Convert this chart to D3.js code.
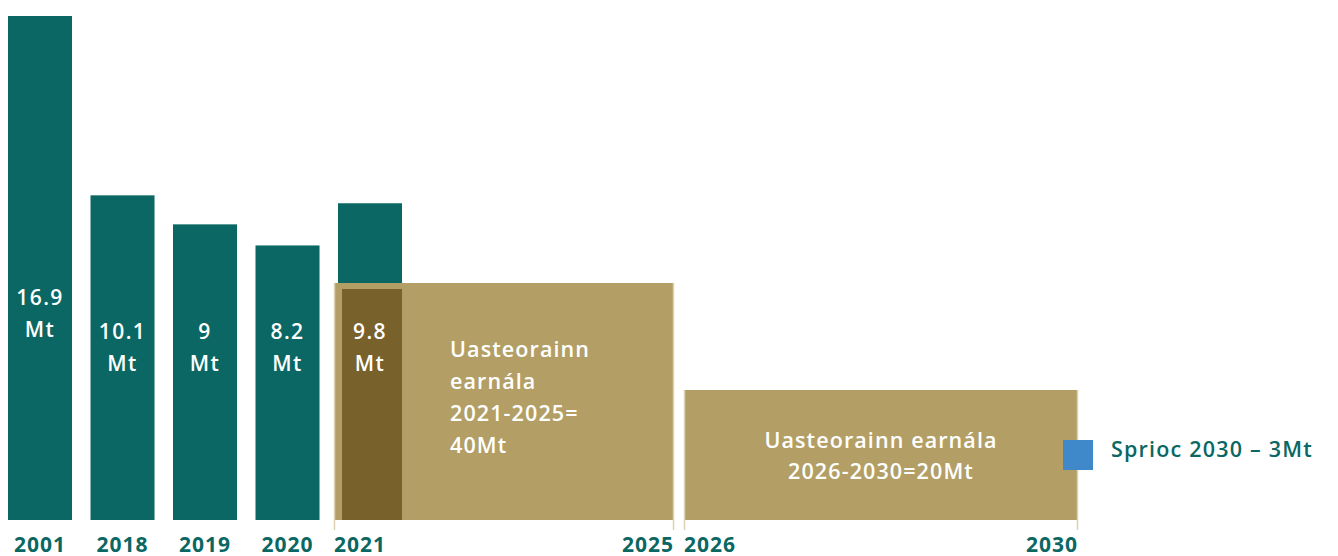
<!DOCTYPE html>
<html>
<head>
<meta charset="utf-8">
<script src="https://cdn.jsdelivr.net/npm/d3@7"></script>
<style>
  body { margin: 0; background: #fff; }
  svg { display: block; font-family: "Open Sans", sans-serif; }
</style>
</head>
<body>
<svg id="chart" width="1338" height="556"></svg>
<script>
// Emissions per year (Mt)
const years = ["2001", "2018", "2019", "2020", "2021"];
const emissions = [16.9, 10.1, 9, 8.2, 9.8];

// Sectoral ceilings
const periodStart = ["2021", "2026"];
const periodEnd = ["2025", "2030"];
const periodCap = [40, 20];
const periodText = [
    ["Uasteorainn", "earnála", "2021-2025=", "40Mt"],
    ["Uasteorainn earnála", "2026-2030=20Mt"],
];

const targetYear = "2030";
const targetValue = 3;
const targetLabel = "Sprioc 2030 – 3Mt";

const teal = "#0a6763";
const gold = "#b39f65";
const darkGold = "#79612b";
const edge = "#dcd1b0";
const blue = "#3f88c9";

const svg = d3.select("#chart");
const baseline = 520;

const x = d3.scaleBand()
    .domain(years)
    .range([-1.24, 411.26])
    .paddingInner(0.224)
    .paddingOuter(0.112);

// bar heights in the original are not proportional from zero
const y = d3.scaleLinear().domain([-2.21, 16.9]).range([baseline, 16]);
const yCap = d3.scaleLinear().domain([-4.3, 40]).range([baseline, 283]);

// pixel spans of the two ceiling periods
const periodSpans = [[334, 674], [684, 1078]];

const bars = years.map((yr, i) => ({ year: yr, value: emissions[i] }));

// Bars
svg.append("g")
    .selectAll("rect")
    .data(bars)
    .join("rect")
    .attr("x", (d) => x(d.year))
    .attr("y", (d) => y(d.value))
    .attr("width", x.bandwidth())
    .attr("height", (d) => baseline - y(d.value))
    .attr("fill", teal);

// Ceiling boxes
const periods = periodStart.map((s, i) => ({
    start: s,
    end: periodEnd[i],
    cap: periodCap[i],
    text: periodText[i],
    x0: periodSpans[i][0],
    x1: periodSpans[i][1],
}));

const pg = svg.append("g");
pg.selectAll("rect")
    .data(periods)
    .join("rect")
    .attr("x", (d) => d.x0)
    .attr("y", (d) => yCap(d.cap))
    .attr("width", (d) => d.x1 - d.x0)
    .attr("height", (d) => baseline - yCap(d.cap))
    .attr("fill", gold);

// light edge lines extending below the boxes
periods.forEach((p) => {
    [p.x0 + 0.5, p.x1 - 0.5].forEach((ex) => {
        pg.append("line")
            .attr("x1", ex)
            .attr("x2", ex)
            .attr("y1", yCap(p.cap))
            .attr("y2", baseline + 10)
            .attr("stroke", edge)
            .attr("stroke-width", 1.5);
    });
});

// 2021 emissions inside the first ceiling
const overlap = bars.find((d) => d.year === periods[0].start);
svg.append("rect")
    .attr("x", x(overlap.year) + 4)
    .attr("y", yCap(periods[0].cap) + 6)
    .attr("width", x.bandwidth() - 4)
    .attr("height", baseline - yCap(periods[0].cap) - 6)
    .attr("fill", darkGold);

// Bar value labels
const lbl = svg.append("g")
    .attr("fill", "#fff")
    .attr("font-size", 21)
    .attr("font-weight", 600)
    .attr("letter-spacing", 1.4)
    .attr("text-anchor", "middle");

bars.forEach((d, i) => {
    const top = i === 0 ? 305 : 339;
    const cx = x(d.year) + x.bandwidth() / 2;
    lbl.append("text").attr("x", cx).attr("y", top).text(d.value);
    lbl.append("text").attr("x", cx).attr("y", top + 32).text("Mt");
});

// Text in ceiling boxes
const t1 = svg.append("text")
    .attr("fill", "#fff")
    .attr("font-size", 21.5)
    .attr("font-weight", 600)
    .attr("letter-spacing", 1.1);
periods[0].text.forEach((line, i) => {
    t1.append("tspan").attr("x", 450).attr("y", 357 + i * 32).text(line);
});

const t2 = svg.append("text")
    .attr("fill", "#fff")
    .attr("font-size", 21.5)
    .attr("font-weight", 600)
    .attr("letter-spacing", 1.1)
    .attr("text-anchor", "middle");
periods[1].text.forEach((line, i) => {
    t2.append("tspan")
        .attr("x", (periods[1].x0 + periods[1].x1) / 2)
        .attr("y", 448 + i * 31)
        .text(line);
});

// Year axis under the bars
const axis = svg.append("g")
    .attr("transform", `translate(0,${baseline})`)
    .call(
        d3.axisBottom(x)
            .tickValues(years.filter((yr) => yr !== periods[0].start))
            .tickSize(0)
            .tickPadding(17),
    );
axis.select(".domain").remove();
axis.selectAll("text")
    .attr("fill", teal)
    .attr("font-size", 21)
    .attr("font-weight", 700)
    .attr("letter-spacing", 1)
    .attr("font-family", "'Open Sans', sans-serif");

// Period edge labels
const el = svg.append("g")
    .attr("fill", teal)
    .attr("font-size", 21)
    .attr("font-weight", 700)
    .attr("letter-spacing", 1);
periods.forEach((p) => {
    el.append("text").attr("x", p.x0).attr("y", 552).text(p.start);
    el.append("text").attr("x", p.x1).attr("y", 552).attr("text-anchor", "end").text(p.end);
});

// 2030 target marker
const target = periods.find((p) => p.end === targetYear);
svg.append("rect")
    .attr("x", target.x1 - 15)
    .attr("y", 440)
    .attr("width", 30)
    .attr("height", 30)
    .attr("fill", blue)
    .datum(targetValue);

svg.append("text")
    .attr("x", target.x1 + 33)
    .attr("y", 457)
    .attr("fill", teal)
    .attr("font-size", 21.5)
    .attr("font-weight", 600)
    .attr("letter-spacing", 1.2)
    .text(targetLabel);
</script>
</body>
</html>
